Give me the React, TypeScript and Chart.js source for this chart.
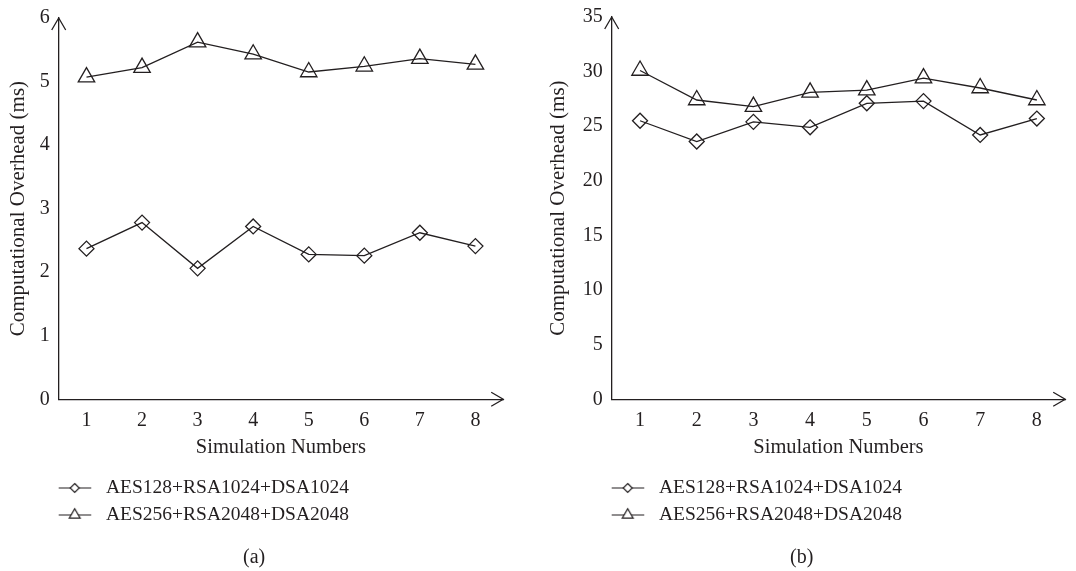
import React, { useEffect, useRef } from 'react';
import { Chart, registerables } from 'chart.js';

Chart.register(...registerables);

// ---------- data ----------
const categories = ['1', '2', '3', '4', '5', '6', '7', '8'];
const seriesNames = ['AES128+RSA1024+DSA1024', 'AES256+RSA2048+DSA2048'];

// panel (a)
const panelALow = [2.37, 2.78, 2.06, 2.72, 2.28, 2.26, 2.62, 2.41];
const panelAHigh = [5.07, 5.22, 5.62, 5.43, 5.15, 5.24, 5.36, 5.27];
const panelATicks = [0, 1, 2, 3, 4, 5, 6];

// panel (b)
const panelBLow = [25.5, 23.6, 25.4, 24.9, 27.1, 27.3, 24.2, 25.7];
const panelBHigh = [30.1, 27.4, 26.8, 28.1, 28.3, 29.4, 28.5, 27.4];
const panelBTicks = [0, 5, 10, 15, 20, 25, 30, 35];

const xTitle = 'Simulation Numbers';
const yTitle = 'Computational Overhead (ms)';

const INK = '#231f20';
const FONT = 'Liberation Serif';

const arrowPlugin = {
  id: 'axisArrows',
  afterDraw(chart: any) {
    const { ctx, chartArea } = chart;
    const { left, right, top, bottom } = chartArea;
    ctx.save();
    ctx.strokeStyle = INK;
    ctx.lineWidth = 1.3;
    ctx.beginPath();
    ctx.moveTo(left - 7, top + 12);
    ctx.lineTo(left, top);
    ctx.lineTo(left + 7, top + 12);
    ctx.moveTo(right - 12, bottom - 7);
    ctx.lineTo(right, bottom);
    ctx.lineTo(right - 12, bottom + 7);
    ctx.stroke();
    ctx.restore();
  },
};

function makeIcon(kind: 'diamond' | 'triangle'): HTMLCanvasElement {
  const c = document.createElement('canvas');
  c.width = 46;
  c.height = 20;
  const g = c.getContext('2d')!;
  g.strokeStyle = INK;
  g.lineWidth = 1.2;
  g.beginPath();
  g.moveTo(0, 10);
  g.lineTo(33, 10);
  g.stroke();
  const cx = 16.5;
  const cy = 10;
  g.beginPath();
  if (kind === 'diamond') {
    const r = 4.5;
    g.moveTo(cx, cy - r);
    g.lineTo(cx + r, cy);
    g.lineTo(cx, cy + r);
    g.lineTo(cx - r, cy);
    g.closePath();
  } else {
    const r = 6.3;
    g.moveTo(cx, cy - r);
    g.lineTo(cx + r * Math.sin((2 * Math.PI) / 3), cy + r / 2);
    g.lineTo(cx - r * Math.sin((2 * Math.PI) / 3), cy + r / 2);
    g.closePath();
  }
  g.fillStyle = '#ffffff';
  g.fill();
  g.stroke();
  return c;
}

function makeConfig(
  low: number[],
  high: number[],
  ticks: number[],
  caption: string,
  area: { left: number; right: number; top: number; width: number },
  yTitlePad: number,
  icons: HTMLCanvasElement[]
): any {
  const tickFont = { family: FONT, size: 20 };
  return {
    type: 'line',
    data: {
      labels: categories,
      datasets: [
        {
          label: seriesNames[0],
          data: low,
          borderColor: INK,
          borderWidth: 1.3,
          pointStyle: 'rectRot',
          pointRadius: 7.5,
          pointBorderColor: INK,
          pointBorderWidth: 1.3,
          pointBackgroundColor: 'rgba(0,0,0,0)',
          tension: 0,
          clip: false,
        },
        {
          label: seriesNames[1],
          data: high,
          borderColor: INK,
          borderWidth: 1.3,
          pointStyle: 'triangle',
          pointRadius: 9.5,
          pointBorderColor: INK,
          pointBorderWidth: 1.3,
          pointBackgroundColor: 'rgba(0,0,0,0)',
          tension: 0,
          clip: false,
        },
      ],
    },
    options: {
      responsive: false,
      animation: false,
      devicePixelRatio: 1,
      layout: {
        padding: { left: 0, top: area.top, right: area.width - area.right, bottom: 0 },
      },
      plugins: {
        tooltip: { enabled: false },
        legend: {
          display: true,
          position: 'bottom',
          align: 'start',
          fullSize: false,
          labels: {
            usePointStyle: true,
            pointStyleWidth: 30,
            padding: 7.5,
            color: INK,
            font: { family: FONT, size: 19.5 },
            generateLabels: (chart: any) =>
              chart.data.datasets.map((ds: any, i: number) => ({
                text: ds.label,
                pointStyle: icons[i],
                fillStyle: 'rgba(0,0,0,0)',
                strokeStyle: INK,
                lineWidth: 1,
                hidden: false,
                datasetIndex: i,
                fontColor: INK,
              })),
          },
        },
        title: {
          display: true,
          position: 'bottom',
          text: caption,
          color: INK,
          font: { family: FONT, size: 20, weight: 'normal' },
          padding: { top: 11.5, bottom: 0.8 },
        },
      },
      scales: {
        x: {
          type: 'category',
          offset: true,
          grid: { display: false, drawTicks: false },
          border: { display: true, color: INK, width: 1.3 },
          ticks: { color: INK, font: tickFont, padding: 9, maxRotation: 0, autoSkip: false },
          title: {
            display: true,
            text: xTitle,
            color: INK,
            font: { family: FONT, size: 20.5 },
            padding: { top: 0, bottom: 10.5 },
          },
          afterFit: (s: any) => {
            s.height = 71.45;
            s.paddingLeft = 0;
            s.paddingRight = 0;
          },
        },
        y: {
          min: ticks[0],
          max: ticks[ticks.length - 1],
          grid: { display: false, drawTicks: false },
          border: { display: true, color: INK, width: 1.3 },
          ticks: {
            stepSize: ticks[1] - ticks[0],
            color: INK,
            font: tickFont,
            padding: 9,
          },
          title: {
            display: true,
            text: yTitle,
            color: INK,
            font: { family: FONT, size: 21 },
            padding: { top: yTitlePad, bottom: 0 },
          },
          afterFit: (s: any) => {
            s.width = area.left;
            s.paddingTop = 0;
            s.paddingBottom = 0;
          },
        },
      },
    },
    plugins: [arrowPlugin],
  };
}

export default function App() {
  const refA = useRef<HTMLCanvasElement | null>(null);
  const refB = useRef<HTMLCanvasElement | null>(null);

  useEffect(() => {
    document.body.style.margin = '0';
    Chart.defaults.font.family = FONT;
    const icons = [makeIcon('diamond'), makeIcon('triangle')];
    const chartA = new Chart(
      refA.current!,
      makeConfig(panelALow, panelAHigh, panelATicks, '(a)', { left: 58.7, right: 508.3, top: 18, width: 514 }, 5.4, icons)
    );
    const chartB = new Chart(
      refB.current!,
      makeConfig(panelBLow, panelBHigh, panelBTicks, '(b)', { left: 73.7, right: 527.3, top: 17, width: 538 }, 7.4, icons)
    );
    return () => {
      chartA.destroy();
      chartB.destroy();
    };
  }, []);

  return (
    <div style={{ position: 'absolute', left: 0, top: 0, width: 1076, height: 571, background: '#ffffff' }}>
      <canvas ref={refA} width={514} height={571} style={{ position: 'absolute', left: 0, top: 0, display: 'block' }} />
      <canvas ref={refB} width={538} height={571} style={{ position: 'absolute', left: 538, top: 0, display: 'block' }} />
    </div>
  );
}
